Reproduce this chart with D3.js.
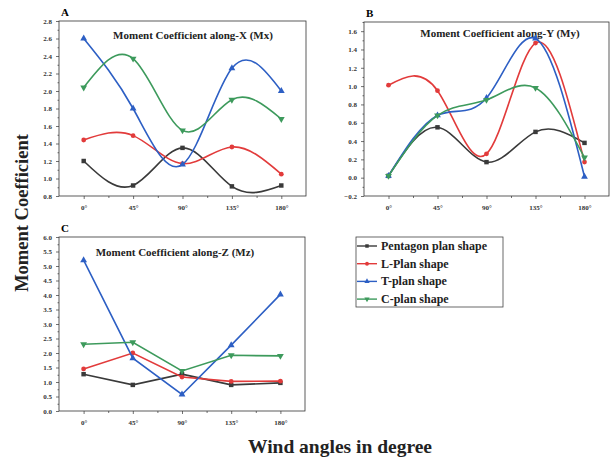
<!DOCTYPE html>
<html>
<head>
<meta charset="utf-8">
<script src="https://cdn.jsdelivr.net/npm/d3@7"></script>
<style>
	body { margin: 0; background: #fff; }
	text { font-family: 'Liberation Serif', 'Times New Roman', serif; }
</style>
</head>
<body>
<svg class="moment-chart" width="611" height="459"></svg>
<script>
// wind angles (degrees) and their labels
let angles = [0, 45, 90, 135, 180];
let angleLabels = ['0°', '45°', '90°', '135°', '180°'];

let seriesNames = ['Pentagon plan shape', 'L-Plan shape', 'T-plan shape', 'C-plan shape'];

// Moment coefficient along X (Mx)
let mxPentagon = [1.20, 0.92, 1.35, 0.91, 0.92];
let mxL = [1.44, 1.49, 1.17, 1.36, 1.05];
let mxT = [2.60, 1.80, 1.16, 2.26, 2.00];
let mxC = [2.04, 2.37, 1.55, 1.90, 1.68];

// Moment coefficient along Y (My)
let myPentagon = [0.02, 0.55, 0.17, 0.50, 0.38];
let myL = [1.01, 0.95, 0.26, 1.47, 0.17];
let myT = [0.02, 0.68, 0.87, 1.52, 0.01];
let myC = [0.02, 0.68, 0.85, 0.98, 0.22];

// Moment coefficient along Z (Mz)
let mzPentagon = [1.27, 0.90, 1.27, 0.90, 0.97];
let mzL = [1.45, 2.00, 1.17, 1.02, 1.03];
let mzT = [5.20, 1.82, 0.57, 2.27, 4.02];
let mzC = [2.30, 2.37, 1.38, 1.92, 1.90];

// y tick values per panel
let ticksA = d3.range(0.8, 2.81, 0.2);
let ticksB = d3.range(-0.2, 1.61, 0.2);
let ticksC = d3.range(0, 6.01, 0.5);

let colors = ['#3a3a3a', '#e23b3b', '#2d5fc4', '#3d9a5c'];
let symbols = [d3.symbolSquare, d3.symbolCircle, d3.symbolTriangle, d3.symbolTriangle];

let svg = d3.select('.moment-chart');

let panels = [
	{ label: 'A', title: 'Moment Coefficient along-X (Mx)', series: [mxPentagon, mxL, mxT, mxC],
		box: { left: 59, right: 306, top: 21, bottom: 196 }, yDomain: [0.8, 2.8], ticks: ticksA, minor: 0.1,
		curve: d3.curveNatural, titleX: 193, titleY: 39 },
	{ label: 'B', title: 'Moment Coefficient along-Y (My)', series: [myPentagon, myL, myT, myC],
		box: { left: 364, right: 609, top: 22, bottom: 196 }, yDomain: [-0.2, 1.7], ticks: ticksB, minor: 0.1,
		curve: d3.curveNatural, titleX: 500, titleY: 37 },
	{ label: 'C', title: 'Moment Coefficient along-Z (Mz)', series: [mzPentagon, mzL, mzT, mzC],
		box: { left: 59, right: 305, top: 237, bottom: 411 }, yDomain: [0, 6], ticks: ticksC, minor: 0.25,
		curve: d3.curveLinear, titleX: 175, titleY: 256 }
];

function drawPanel(p) {
	let b = p.box;
	let x = d3.scaleLinear().domain([-22.5, 202.5]).range([b.left, b.right]);
	let y = d3.scaleLinear().domain(p.yDomain).range([b.bottom, b.top]);
	let g = svg.append('g');

	// frame
	g.append('rect')
		.attr('x', b.left).attr('y', b.top)
		.attr('width', b.right - b.left).attr('height', b.bottom - b.top)
		.attr('fill', 'none').attr('stroke', '#333').attr('stroke-width', 0.8);

	// x axis
	g.append('g')
		.attr('transform', 'translate(0,' + b.bottom + ')')
		.call(d3.axisBottom(x).tickValues(angles).tickFormat(function(d, i) { return angleLabels[i]; })
			.tickSize(3).tickSizeOuter(0).tickPadding(6));
	g.append('g')
		.attr('transform', 'translate(0,' + b.bottom + ')')
		.call(d3.axisBottom(x).tickValues(angles.slice(0, 4).map(function(a) { return a + 22.5; }))
			.tickFormat('').tickSize(2).tickSizeOuter(0));

	// y axis
	g.append('g')
		.attr('transform', 'translate(' + b.left + ',0)')
		.call(d3.axisLeft(y).tickValues(p.ticks).tickFormat(d3.format('.1f')).tickSize(3).tickSizeOuter(0).tickPadding(4));
	let minorVals = d3.range(p.yDomain[0], p.yDomain[1] + 1e-6, p.minor)
		.filter(function(v) { return !p.ticks.some(function(t) { return Math.abs(t - v) < 1e-6; }); });
	g.append('g')
		.attr('transform', 'translate(' + b.left + ',0)')
		.call(d3.axisLeft(y).tickValues(minorVals).tickFormat('').tickSize(1.5).tickSizeOuter(0));

	g.selectAll('.domain').remove();
	g.selectAll('.tick line').attr('stroke', '#333').attr('stroke-width', 0.7);
	g.selectAll('.tick text')
		.style('font-size', '7px')
		.style('font-weight', 'bold')
		.attr('fill', '#333');

	// panel label and title
	g.append('text')
		.attr('x', b.left + 2).attr('y', b.top - 5)
		.style('font-size', '11px').style('font-weight', 'bold')
		.text(p.label);
	g.append('text')
		.attr('x', p.titleX).attr('y', p.titleY)
		.attr('text-anchor', 'middle')
		.style('font-size', '11px').style('font-weight', 'bold')
		.attr('fill', '#222')
		.text(p.title);

	// series
	let line = d3.line()
		.x(function(d, i) { return x(angles[i]); })
		.y(function(d) { return y(d); })
		.curve(p.curve);

	p.series.forEach(function(vals, s) {
		g.append('path')
			.datum(vals)
			.attr('d', line)
			.attr('fill', 'none')
			.attr('stroke', colors[s])
			.attr('stroke-width', 1.6);

		g.selectAll('.m' + s)
			.data(vals)
			.enter()
			.append('path')
			.attr('class', 'm' + s)
			.attr('d', d3.symbol().type(symbols[s]).size(s === 1 ? 18 : 20))
			.attr('transform', function(d, i) {
				return 'translate(' + x(angles[i]) + ',' + y(d) + ')' + (s === 3 ? ' rotate(180)' : '');
			})
			.attr('fill', colors[s]);
	});
}

panels.forEach(drawPanel);

// legend
let legend = svg.append('g');
legend.append('rect')
	.attr('x', 356).attr('y', 237).attr('width', 147).attr('height', 70)
	.attr('fill', '#fff').attr('stroke', '#444').attr('stroke-width', 0.8);

seriesNames.forEach(function(name, s) {
	let ly = 246 + s * 17.7;
	legend.append('line')
		.attr('x1', 357).attr('x2', 377).attr('y1', ly).attr('y2', ly)
		.attr('stroke', colors[s]).attr('stroke-width', 1.4);
	legend.append('path')
		.attr('d', d3.symbol().type(symbols[s]).size(12))
		.attr('transform', 'translate(367,' + ly + ')' + (s === 3 ? ' rotate(180)' : ''))
		.attr('fill', colors[s]);
	legend.append('text')
		.attr('x', 381).attr('y', ly + 4)
		.style('font-size', '12px').style('font-weight', 'bold')
		.attr('fill', '#222')
		.text(name);
});

// shared axis titles
svg.append('text')
	.attr('transform', 'translate(28,213) rotate(-90)')
	.attr('text-anchor', 'middle')
	.style('font-size', '18.5px').style('font-weight', 'bold')
	.attr('fill', '#222')
	.text('Moment Coefficient');

svg.append('text')
	.attr('x', 340).attr('y', 453)
	.attr('text-anchor', 'middle')
	.style('font-size', '19.5px').style('font-weight', 'bold')
	.attr('fill', '#222')
	.text('Wind angles in degree');
</script>
</body>
</html>
